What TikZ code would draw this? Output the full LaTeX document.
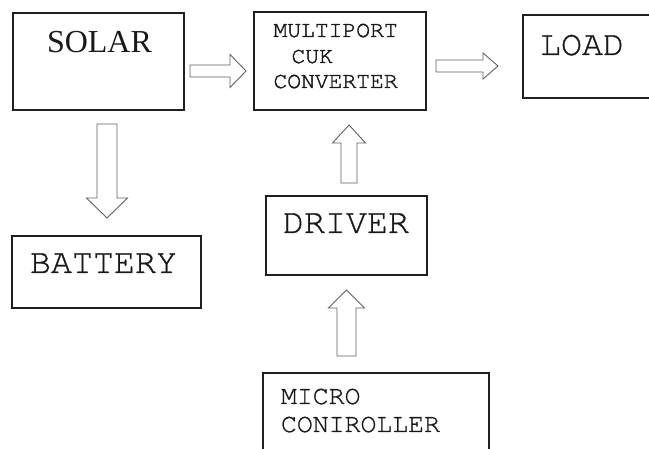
\documentclass[tikz,border=0pt]{standalone}
\usepackage{fontspec}
\setmainfont{Liberation Serif}
\newfontfamily\monofont[FakeBold=0.9]{TeX Gyre Cursor}
\newfontfamily\monoheavy[FakeBold=1.6]{TeX Gyre Cursor}
\usetikzlibrary{calc}

% hollow block arrow, horizontal: #1 tail, #2 tip, #3 shaft half width, #4 head half width, #5 head length
\newcommand\hollowh[5]{%
  \draw[arrowline] let \p1=(#1), \p2=(#2), \n1={sign(\x2-\x1)} in
    (\x1,{\y1+#3}) -- ({\x2-\n1*#5},{\y1+#3}) -- ({\x2-\n1*#5},{\y1+#4}) -- (\x2,\y1)
    -- ({\x2-\n1*#5},{\y1-#4}) -- ({\x2-\n1*#5},{\y1-#3}) -- (\x1,{\y1-#3}) -- cycle;}
% hollow block arrow, vertical
\newcommand\hollowv[5]{%
  \draw[arrowline] let \p1=(#1), \p2=(#2), \n1={sign(\y2-\y1)} in
    ({\x1+#3},\y1) -- ({\x1+#3},{\y2-\n1*#5}) -- ({\x1+#4},{\y2-\n1*#5}) -- (\x1,\y2)
    -- ({\x1-#4},{\y2-\n1*#5}) -- ({\x1-#3},{\y2-\n1*#5}) -- ({\x1-#3},\y1) -- cycle;}

\begin{document}
\begin{tikzpicture}[x=1pt,y=-1pt,
  box/.style={draw=black!88, line width=1.3pt, inner sep=0pt, outer sep=0pt},
  arrowline/.style={draw=black!62, line width=0.9pt, line join=miter},
  lbl/.style={anchor=base west, inner sep=0pt, outer sep=0pt, text=black!90},
  serifbig/.style={font=\fontsize{32}{32}\selectfont},
  monobig/.style={font=\monofont\fontsize{35}{35}\selectfont},
  monomid/.style={font=\monofont\fontsize{26.5}{26.5}\selectfont},
  monosmall/.style={font=\monoheavy\fontsize{23}{23}\selectfont}]

\useasboundingbox (0,0) rectangle (649,449);
\fill[white] (0,0) rectangle (649,449);
\clip (0,0) rectangle (649,449);

% blocks
\node[box, minimum width=171pt, minimum height=97pt] (solar) at (98.5,61.5) {};
\node[box, minimum width=172pt, minimum height=98pt] (cuk) at (340,61) {};
\node[box, minimum width=157pt, minimum height=83pt] (load) at (601.5,56.5) {};
\node[box, minimum width=189pt, minimum height=72pt] (battery) at (106.5,272) {};
\node[box, minimum width=161pt, minimum height=79pt] (driver) at (346.5,235.5) {};
\node[box, minimum width=226pt, minimum height=97pt] (micro) at (376,421.5) {};

% labels
\node[lbl, serifbig] (tsolar) at (47,53) {SOLAR};
\node[lbl, monosmall] (tcuk1) at (273.5,37) {MULTIPORT};
\node[lbl, monosmall] (tcuk2) at (291.5,63) {CUK};
\node[lbl, monosmall] (tcuk3) at (273.5,88) {CONVERTER};
\node[lbl, monobig] (tload) at (540,55) {LOAD};
\node[lbl, monobig] (tbatt) at (30,273) {BATTERY};
\node[lbl, monobig] (tdriver) at (283,233) {DRIVER};
\node[lbl, monomid] (tmicro1) at (281,404) {MICRO};
\node[lbl, monomid] (tmicro2) at (281,432) {CONIROLLER};

% connector end points
\coordinate (sc1) at (190,71);
\coordinate (sc2) at (246,71);
\coordinate (cl1) at (436,66);
\coordinate (cl2) at (498,66);
\coordinate (sb1) at (107,124);
\coordinate (sb2) at (107,218);
\coordinate (dc1) at (349,183);
\coordinate (dc2) at (349,125);
\coordinate (md1) at (346.5,356);
\coordinate (md2) at (346.5,290);

% hollow arrows
\hollowh{sc1}{sc2}{6pt}{16.5pt}{16pt}
\hollowh{cl1}{cl2}{6pt}{13pt}{15pt}
\hollowv{sb1}{sb2}{10pt}{20.5pt}{20pt}
\hollowv{dc1}{dc2}{8pt}{16.5pt}{18pt}
\hollowv{md1}{md2}{9.5pt}{18pt}{18pt}
\end{tikzpicture}
\end{document}
